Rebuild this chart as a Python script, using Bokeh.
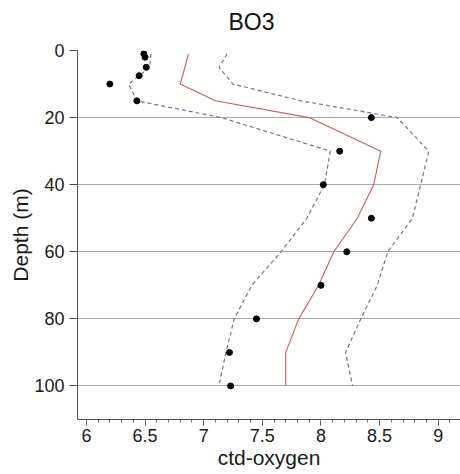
from bokeh.plotting import figure
from bokeh.models import Range1d, FixedTicker, Title
from bokeh.embed import file_html
from bokeh.resources import INLINE

# Observations (black dots)
obs_depth = [1, 2, 5, 7.5, 10, 15, 20, 30, 40, 50, 60, 70, 80, 90, 100]
obs_oxygen = [6.49, 6.50, 6.51, 6.45, 6.20, 6.43, 8.43, 8.16, 8.02, 8.43, 8.22, 8.00, 7.45, 7.22, 7.23]

# Profile (red) with lower / upper bounds (dashed)
prof_depth = [1, 5, 10, 15, 20, 30, 40, 50, 60, 70, 80, 90, 100]
prof_mean = [6.87, 6.84, 6.80, 7.10, 7.90, 8.51, 8.45, 8.31, 8.11, 7.98, 7.81, 7.70, 7.70]
prof_lower = [6.55, 6.54, 6.36, 6.43, 7.15, 8.08, 8.03, 7.88, 7.66, 7.41, 7.26, 7.19, 7.13]
prof_upper = [7.20, 7.13, 7.25, 7.83, 8.65, 8.92, 8.85, 8.78, 8.57, 8.48, 8.34, 8.21, 8.27]

x_major = [6, 6.5, 7, 7.5, 8, 8.5, 9]
x_minor = [6.0, 6.1, 6.2, 6.3, 6.4, 6.5, 6.6, 6.7, 6.8, 6.9, 7.0, 7.1, 7.2, 7.3, 7.4, 7.5,
           7.6, 7.7, 7.8, 7.9, 8.0, 8.1, 8.2, 8.3, 8.4, 8.5, 8.6, 8.7, 8.8, 8.9, 9.0, 9.1]
y_major = [0, 20, 40, 60, 80, 100]

FONT = "Liberation Sans"

p = figure(width=460, height=474, output_backend="svg", toolbar_location=None, title=None,
           x_range=Range1d(5.924, 9.19), y_range=Range1d(110, 0),
           min_border_left=77, min_border_right=0, min_border_top=50, min_border_bottom=55)
p.outline_line_color = None
p.background_fill_color = "white"
p.border_fill_color = "white"

# spacer between frame and title, then the title itself
p.add_layout(Title(text=" ", text_font_size="1px", standoff=8), "above")
p.add_layout(Title(text="BO3", text_font=FONT, text_font_size="23px", text_font_style="normal",
                   text_color="#111111", align="left", offset=151, standoff=10), "above")

p.xgrid.visible = False
p.ygrid.grid_line_color = "#a8a8a8"
p.ygrid.grid_line_width = 1
p.ygrid.ticker = FixedTicker(ticks=y_major)

p.xaxis.ticker = FixedTicker(ticks=x_major, minor_ticks=x_minor)
p.yaxis.ticker = FixedTicker(ticks=y_major)
p.xaxis.major_label_overrides = {6: "6", 7: "7", 8: "8", 9: "9"}

for ax in (p.xaxis[0], p.yaxis[0]):
    ax.axis_line_color = "#505050"
    ax.major_tick_line_color = "#505050"
    ax.minor_tick_line_color = "#707070"
    ax.major_tick_in = 0
    ax.minor_tick_in = 0
    ax.minor_tick_out = 3
    ax.major_label_text_font = FONT
    ax.major_label_text_font_size = "18px"
    ax.major_label_text_color = "#1a1a1a"
    ax.axis_label_text_font = FONT
    ax.axis_label_text_font_size = "21px"
    ax.axis_label_text_font_style = "normal"
    ax.axis_label_text_color = "#1a1a1a"

p.xaxis.major_tick_out = 6
p.yaxis.major_tick_out = 8
p.yaxis.minor_tick_line_color = None
p.xaxis.axis_label = "ctd-oxygen"
p.yaxis.axis_label = "Depth (m)"
p.xaxis.major_label_standoff = 3
p.xaxis.axis_label_standoff = 1
p.yaxis.major_label_standoff = 5
p.yaxis.axis_label_standoff = -1

p.line(prof_lower, prof_depth, line_color="#6b7896", line_width=1.2, line_dash="4 3")
p.line(prof_upper, prof_depth, line_color="#6b7896", line_width=1.2, line_dash="4 3")
p.line(prof_mean, prof_depth, line_color="#c0625a", line_width=1.1)
p.scatter(obs_oxygen, obs_depth, size=6, color="black")

open("out.html", "w").write(file_html(p, INLINE))
